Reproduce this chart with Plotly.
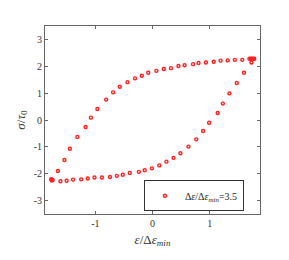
import plotly.graph_objects as go

# loading branch (upper)
up_x = [-1.77, -1.76, -1.655, -1.54, -1.445, -1.315, -1.17, -1.077, -0.964, -0.81, -0.69, -0.573,
        -0.437, -0.306, -0.187, -0.074, 0.068, 0.198, 0.323, 0.454, 0.561, 0.709, 0.805,
        0.935, 1.071, 1.19, 1.315, 1.44, 1.57, 1.695, 1.72, 1.74, 1.76, 1.78]
up_y = [-2.22, -2.25, -1.90, -1.49, -1.07, -0.63, -0.26, 0.087, 0.41, 0.76, 1.03, 1.24,
        1.41, 1.55, 1.65, 1.76, 1.83, 1.90, 1.93, 2.01, 2.04, 2.08, 2.12,
        2.14, 2.17, 2.21, 2.22, 2.24, 2.24, 2.28, 2.28, 2.28, 2.28, 2.28]
# unloading branch (lower)
dn_x = [1.73, 1.60, 1.474, 1.344, 1.23, 1.14, 0.99, 0.884, 0.765, 0.629, 0.488, 0.368,
        0.244, 0.119, -0.011, -0.136, -0.238, -0.397, -0.52, -0.624, -0.743, -0.884,
        -1.015, -1.134, -1.247, -1.389, -1.502, -1.61, -1.746, -1.77]
dn_y = [2.14, 1.76, 1.375, 0.99, 0.61, 0.26, -0.10, -0.41, -0.72, -0.99, -1.24, -1.41,
        -1.55, -1.69, -1.80, -1.87, -1.93, -1.97, -2.04, -2.08, -2.12, -2.14,
        -2.14, -2.18, -2.21, -2.22, -2.26, -2.28, -2.23, -2.20]

x_ticks = [-1, 0, 1]
x_tick_labels = ["-1", "0", "1"]
y_ticks = [-3, -2, -1, 0, 1, 2, 3]
y_tick_labels = ["-3", "-2", "-1", "0", "1", "2", "3"]

serif = "Liberation Serif"
marker = dict(symbol="circle-open", size=3, color="#ff2020", line=dict(width=1.4, color="#ff2020"))

fig = go.Figure()
fig.add_trace(go.Scatter(x=up_x + dn_x, y=up_y + dn_y, mode="markers", marker=marker,
                         name="Δ<i>ε</i>/Δ<i>ε</i><sub><i>min</i></sub>=3.5", showlegend=True))

axis_common = dict(showgrid=False, zeroline=False, showline=True, linecolor="#666666", linewidth=1,
                   mirror="ticks", ticks="inside", ticklen=3, tickcolor="#666666",
                   tickfont=dict(family=serif, size=10, color="#333333"))

fig.update_layout(
    width=281, height=252,
    margin=dict(l=31, r=29, t=18, b=46),
    paper_bgcolor="white", plot_bgcolor="white",
    font=dict(family=serif),
    xaxis=dict(range=[-1.88, 1.88], tickvals=x_ticks, ticktext=x_tick_labels,
               title=dict(text="<i>ε</i>/Δ<i>ε</i><sub><i>min</i></sub>",
                          font=dict(family=serif, size=13, color="#333333"), standoff=6),
               **axis_common),
    yaxis=dict(range=[-3.5, 3.5], tickvals=y_ticks, ticktext=y_tick_labels,
               title=dict(text="<i>σ</i>/<i>τ</i><sub>0</sub>",
                          font=dict(family=serif, size=13, color="#333333"), standoff=5),
               **axis_common),
    legend=dict(x=0.46, y=0.015, xanchor="left", yanchor="bottom",
                bordercolor="#333333", borderwidth=1, bgcolor="white",
                font=dict(family=serif, size=10, color="#262626"),
                itemwidth=30, tracegroupgap=0),
    showlegend=True,
)

fig.write_html("out.html")
